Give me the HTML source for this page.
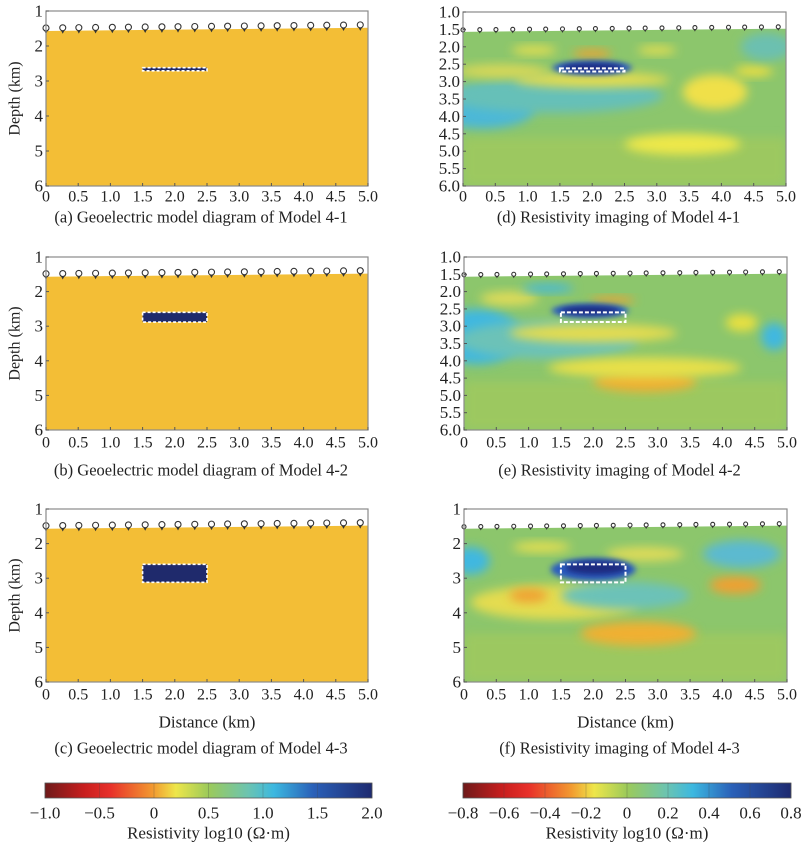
<!DOCTYPE html>
<html><head><meta charset="utf-8"><style>
body{margin:0;background:#fff;width:804px;height:846px;overflow:hidden}
svg{display:block}
text{font-family:"Liberation Serif",serif;fill:#222}
</style></head><body>
<svg id="fig" width="804" height="846" viewBox="0 0 804 846" xmlns="http://www.w3.org/2000/svg">
<defs>
<filter id="blur" x="-50%" y="-50%" width="200%" height="200%"><feGaussianBlur stdDeviation="5"/></filter>
<filter id="blur2" x="-50%" y="-50%" width="200%" height="200%"><feGaussianBlur stdDeviation="3"/></filter>
<linearGradient id="jet" x1="0" x2="1" y1="0" y2="0">
<stop offset="0" stop-color="#6e1a1a"/><stop offset="0.12" stop-color="#c81e1e"/><stop offset="0.2" stop-color="#e8302a"/>
<stop offset="0.33" stop-color="#f29a30"/><stop offset="0.4" stop-color="#eee64a"/><stop offset="0.5" stop-color="#9cca5a"/>
<stop offset="0.62" stop-color="#6cc4b0"/><stop offset="0.7" stop-color="#3cb8e0"/><stop offset="0.82" stop-color="#2a60b8"/>
<stop offset="1" stop-color="#1e2a70"/></linearGradient>
</defs>
</svg>
<script>
// ---- data ----
const xTicks=[0,0.5,1.0,1.5,2.0,2.5,3.0,3.5,4.0,4.5,5.0];
const xTickLabels=["0","0.5","1.0","1.5","2.0","2.5","3.0","3.5","4.0","4.5","5.0"];
const depthTicksInt=[1,2,3,4,5,6];
const depthTicksHalf=[1,1.5,2,2.5,3,3.5,4,4.5,5,5.5,6];
const electrodes=[0,0.26,0.51,0.77,1.03,1.28,1.54,1.8,2.05,2.31,2.57,2.82,3.08,3.34,3.59,3.85,4.11,4.36,4.62,4.88];
const surfaceDepth=[1.57,1.48];
const anomalyA=[1.5,2.5,2.62,2.71];
const anomalyB=[1.5,2.5,2.6,2.88];
const anomalyC=[1.5,2.5,2.6,3.12];
const cbLeftTicks=[-1.0,-0.5,0,0.5,1.0,1.5,2.0];
const cbLeftLabels=["\u22121.0","\u22120.5","0","0.5","1.0","1.5","2.0"];
const cbRightTicks=[-0.8,-0.6,-0.4,-0.2,0,0.2,0.4,0.6,0.8];
const cbRightLabels=["\u22120.8","\u22120.6","\u22120.4","\u22120.2","0","0.2","0.4","0.6","0.8"];
// imaging blobs: [x km, depth km, rx km, ry km, color]
const blobsD=[[0.3,3.8,0.8,0.55,"#4cb8d8"],[1.4,3.4,1.7,0.5,"#66c0b8"],[2.0,2.95,1.2,0.22,"#e4dc50"],[0.6,2.7,0.7,0.2,"#d8d858"],[2.0,2.2,0.3,0.12,"#f0a030"],[1.1,2.1,0.35,0.13,"#e8e050"],[3.0,2.1,0.3,0.12,"#e8e050"],[3.9,3.3,0.5,0.5,"#f0e048"],[3.4,4.8,0.9,0.3,"#eee84a"],[4.5,2.7,0.3,0.15,"#f0e040"],[4.7,2.0,0.4,0.4,"#6cc0b0"],[2.0,2.6,0.62,0.2,"#2a5cc0"],[2.0,2.6,0.48,0.13,"#1a2a80"]];
const blobsE=[[0.2,3.3,0.7,0.8,"#40b8e0"],[1.3,3.4,1.4,0.55,"#6cc2b8"],[2.0,3.2,1.3,0.27,"#e4dc50"],[0.7,2.2,0.45,0.2,"#e0dc58"],[2.3,2.25,0.35,0.1,"#f0a030"],[1.3,1.9,0.4,0.12,"#40b8e0"],[2.8,4.6,0.8,0.3,"#f0b030"],[2.8,4.2,1.5,0.3,"#e8e04a"],[4.3,2.9,0.25,0.25,"#e8e040"],[4.8,3.3,0.2,0.4,"#40b8e0"],[1.95,2.55,0.6,0.2,"#2a5cc0"],[1.95,2.55,0.46,0.13,"#1a2a80"]];
const blobsF=[[0.1,2.5,0.3,0.4,"#40b8e0"],[1.4,3.7,1.3,0.5,"#e4dc50"],[1.0,3.5,0.3,0.2,"#f0a030"],[2.5,3.5,1.0,0.4,"#6cc2b8"],[2.7,4.6,0.9,0.35,"#f0b030"],[4.2,3.2,0.4,0.25,"#f0a030"],[4.3,2.3,0.6,0.4,"#5cbad0"],[1.2,2.1,0.45,0.15,"#e8e050"],[2.8,2.3,0.6,0.2,"#e0dc58"],[2.0,2.75,0.66,0.33,"#2a5cc0"],[2.05,2.7,0.48,0.2,"#1a2a80"]];

const NS="http://www.w3.org/2000/svg";
const svg=document.getElementById('fig');
function el(tag,attrs,parent){const e=document.createElementNS(NS,tag);for(const k in attrs)e.setAttribute(k,attrs[k]);(parent||svg).appendChild(e);return e;}
function txt(s,x,y,size,anchor,parent){const t=el('text',{x:x,y:y,'font-size':size,'text-anchor':anchor||'middle','dominant-baseline':'central'},parent);t.textContent=s;return t;}

const panels=[
 {id:'a',x0:46,y0:11,w:322,h:175,type:'model',an:anomalyA,yt:depthTicksInt,half:false,cap:"(a) Geoelectric model diagram of Model 4-1",tl:197,cy:217,dist:false},
 {id:'b',x0:46,y0:257,w:322,h:173,type:'model',an:anomalyB,yt:depthTicksInt,half:false,cap:"(b) Geoelectric model diagram of Model 4-2",tl:443,cy:470,dist:false},
 {id:'c',x0:46,y0:509,w:322,h:173,type:'model',an:anomalyC,yt:depthTicksInt,half:false,cap:"(c) Geoelectric model diagram of Model 4-3",tl:695,cy:748,dist:true},
 {id:'d',x0:463,y0:12,w:323,h:174,type:'img',an:anomalyA,blobs:blobsD,yt:depthTicksHalf,half:true,cap:"(d) Resistivity imaging of Model 4-1",tl:197,cy:217,dist:false},
 {id:'e',x0:464,y0:257,w:323,h:173,type:'img',an:anomalyB,blobs:blobsE,yt:depthTicksHalf,half:true,cap:"(e) Resistivity imaging of Model 4-2",tl:443,cy:470,dist:false},
 {id:'f',x0:464,y0:509,w:323,h:173,type:'img',an:anomalyC,blobs:blobsF,yt:depthTicksInt,half:false,cap:"(f) Resistivity imaging of Model 4-3",tl:695,cy:748,dist:true}
];

panels.forEach(p=>{
 const g=el('g',{});
 
 
 const X=d=>p.x0+d/5*p.w, Y=z=>p.y0+(z-1)/5*p.h;
 const cp=el('clipPath',{id:'cp'+p.id},g);
 el('polygon',{points:`${X(0)},${Y(surfaceDepth[0])} ${X(5)},${Y(surfaceDepth[1])} ${X(5)},${Y(6)} ${X(0)},${Y(6)}`},cp);
 const bodyG=el('g',{'clip-path':`url(#cp${p.id})`},g);
 if(p.type==='model'){
  const r=el('rect',{x:X(0),y:Y(1),width:p.w,height:p.h,fill:'#f3be36'},bodyG);
  
  
 }else{
  el('rect',{x:X(0),y:Y(1),width:p.w,height:p.h,fill:'#8cc66c'},bodyG);
  el('rect',{x:X(0),y:Y(4.6),width:p.w,height:Y(6)-Y(4.6),fill:'#a4ca5c',opacity:0.7,filter:'url(#blur)'},bodyG);
  p.blobs.forEach((b,i)=>{
   const e=el('ellipse',{cx:X(b[0]),cy:Y(b[1]),rx:b[2]/5*p.w,ry:b[3]/5*p.h,fill:b[4],filter:i>=p.blobs.length-2?'url(#blur2)':'url(#blur)'},bodyG);
   
   
  });
 }
 const a=p.an;
 if(p.type==='model'){
  const ar=el('rect',{x:X(a[0]),y:Y(a[2]),width:X(a[1])-X(a[0]),height:Y(a[3])-Y(a[2]),fill:'#1f2a6c',stroke:'#fff','stroke-width':1.6,'stroke-dasharray':'3 2'},g);
  
  
 }else{
  const ar=el('rect',{x:X(a[0]),y:Y(a[2]),width:X(a[1])-X(a[0]),height:Y(a[3])-Y(a[2]),fill:'none',stroke:'#fff','stroke-width':2,'stroke-dasharray':'4 2'},g);
  
  
 }
 const sr=p.type==='model'?3:2;
 electrodes.forEach(e=>{
  const z=surfaceDepth[0]+(surfaceDepth[1]-surfaceDepth[0])*e/5;
  const cx=X(e), cy=Y(z)-sr;
  const eg=el('g',{},g);
  
  
  el('path',{d:`M${cx-sr*0.8},${cy+sr*0.5} L${cx},${cy+sr*2} L${cx+sr*0.8},${cy+sr*0.5}`,fill:'#333'},eg);
  el('circle',{cx:cx,cy:cy,r:sr,fill:'#fff',stroke:'#333','stroke-width':1.1},eg);
 });
 const box=el('rect',{x:p.x0,y:p.y0,width:p.w,height:p.h,fill:'none',stroke:'#8a8a8a','stroke-width':1.2},g);
 
 
 xTicks.forEach((t,i)=>{
  el('line',{x1:X(t),x2:X(t),y1:Y(6),y2:Y(6)-3,stroke:'#555'},g);
  const tl=txt(xTickLabels[i],X(t),p.tl,16,'middle',g);
  
  
 });
 p.yt.forEach(t=>{
  el('line',{x1:p.x0,x2:p.x0+3,y1:Y(t),y2:Y(t),stroke:'#555'},g);
  const tl=txt(p.half?t.toFixed(1):String(t),p.x0-3,Y(t),17,'end',g);
  
  
 });
 if(p.type==='model'){
  const yl=txt('Depth (km)',0,0,16,'middle',g);
  yl.setAttribute('transform',`translate(15,${p.y0+p.h/2}) rotate(-90)`);
  
  
 }
 if(p.dist){
  const dl=txt('Distance (km)',p.x0+p.w/2,722,17,'middle',g);
  
  
 }
 const c=txt(p.cap,p.x0+p.w/2-6,p.cy,16.5,'middle',g);
 
 
});

function colorbar(x0,x1,ticks,labels,name){
 const g=el('g',{});
 
 
 el('rect',{x:x0,y:783,width:x1-x0,height:15,fill:'url(#jet)',stroke:'#555','stroke-width':0.8},g);
 const lo=ticks[0],hi=ticks[ticks.length-1];
 ticks.forEach((t,i)=>{
  const x=x0+(t-lo)/(hi-lo)*(x1-x0);
  el('line',{x1:x,x2:x,y1:783,y2:798,stroke:'#444','stroke-width':0.5,opacity:0.5},g);
  const tl=txt(labels[i],x,813,17,'middle',g);
  
  
 });
 const tt=txt('Resistivity log10 (\u03A9\u00B7m)',(x0+x1)/2,833,17,'middle',g);
 
 
}
colorbar(45,372,cbLeftTicks,cbLeftLabels,'colorbar-model');
colorbar(463,791,cbRightTicks,cbRightLabels,'colorbar-imaging');
</script>
</body></html>
